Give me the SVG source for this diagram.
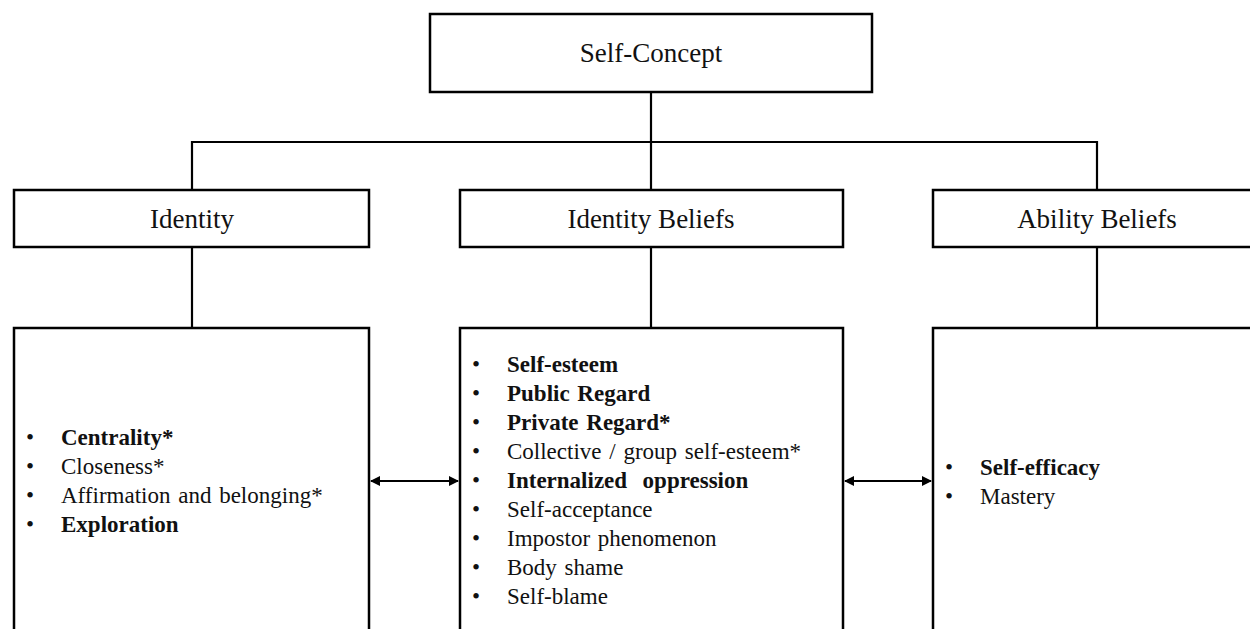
<svg xmlns="http://www.w3.org/2000/svg" width="1250" height="629" viewBox="0 0 1250 629">
<style>
.box{fill:#fff;stroke:#000;stroke-width:2.5}
.ln{fill:none;stroke:#000;stroke-width:2.2}
.h{font-family:"Liberation Serif","Times New Roman",serif;font-size:27px;fill:#111;text-anchor:middle}
.t{font-family:"Liberation Serif","Times New Roman",serif;font-size:23px;fill:#111;word-spacing:2px}
.b{font-weight:bold}
</style>
<defs>
<marker id="ah" viewBox="0 0 10 10" refX="9" refY="5" markerWidth="10" markerHeight="10" markerUnits="userSpaceOnUse" orient="auto-start-reverse">
<path d="M0,0 L10,5 L0,10 z" fill="#000"/>
</marker>
</defs>
<rect width="1250" height="629" fill="#fff"/>
<g id="connectors">
<path class="ln" d="M651,92 V190"/>
<path class="ln" d="M192,190 V142 H1097 V190"/>
<path class="ln" d="M192,247 V328"/>
<path class="ln" d="M651,247 V328"/>
<path class="ln" d="M1097,247 V328"/>
<path class="ln" d="M371,481 H458" marker-start="url(#ah)" marker-end="url(#ah)"/>
<path class="ln" d="M845,481 H931" marker-start="url(#ah)" marker-end="url(#ah)"/>
</g>
<g id="self-concept">
<rect class="box" x="430" y="14" width="442" height="78"/>
<text class="h" x="651" y="62">Self-Concept</text>
</g>
<g id="identity">
<rect class="box" x="14" y="190" width="355" height="57"/>
<text class="h" x="192" y="228">Identity</text>
</g>
<g id="identity-beliefs">
<rect class="box" x="460" y="190" width="383" height="57"/>
<text class="h" x="651" y="228">Identity Beliefs</text>
</g>
<g id="ability-beliefs">
<rect class="box" x="933" y="190" width="330" height="57"/>
<text class="h" x="1097" y="228">Ability Beliefs</text>
</g>
<g id="identity-list">
<rect class="box" x="14" y="328" width="355" height="320"/>
<g class="t">
<text x="26" y="445">•</text><text x="61" y="445" class="b">Centrality*</text>
<text x="26" y="474">•</text><text x="61" y="474">Closeness*</text>
<text x="26" y="503">•</text><text x="61" y="503">Affirmation and belonging*</text>
<text x="26" y="532">•</text><text x="61" y="532" class="b">Exploration</text>
</g>
</g>
<g id="identity-beliefs-list">
<rect class="box" x="460" y="328" width="383" height="320"/>
<g class="t">
<text x="472" y="372">•</text><text x="507" y="372" class="b">Self-esteem</text>
<text x="472" y="401">•</text><text x="507" y="401" class="b">Public Regard</text>
<text x="472" y="430">•</text><text x="507" y="430" class="b">Private Regard*</text>
<text x="472" y="459">•</text><text x="507" y="459">Collective / group self-esteem*</text>
<text x="472" y="488">•</text><text x="507" y="488" class="b" xml:space="preserve">Internalized  oppression</text>
<text x="472" y="517">•</text><text x="507" y="517">Self-acceptance</text>
<text x="472" y="546">•</text><text x="507" y="546">Impostor phenomenon</text>
<text x="472" y="575">•</text><text x="507" y="575">Body shame</text>
<text x="472" y="604">•</text><text x="507" y="604">Self-blame</text>
</g>
</g>
<g id="ability-beliefs-list">
<rect class="box" x="933" y="328" width="330" height="320"/>
<g class="t">
<text x="945" y="475">•</text><text x="980" y="475" class="b">Self-efficacy</text>
<text x="945" y="504">•</text><text x="980" y="504">Mastery</text>
</g>
</g>
</svg>
